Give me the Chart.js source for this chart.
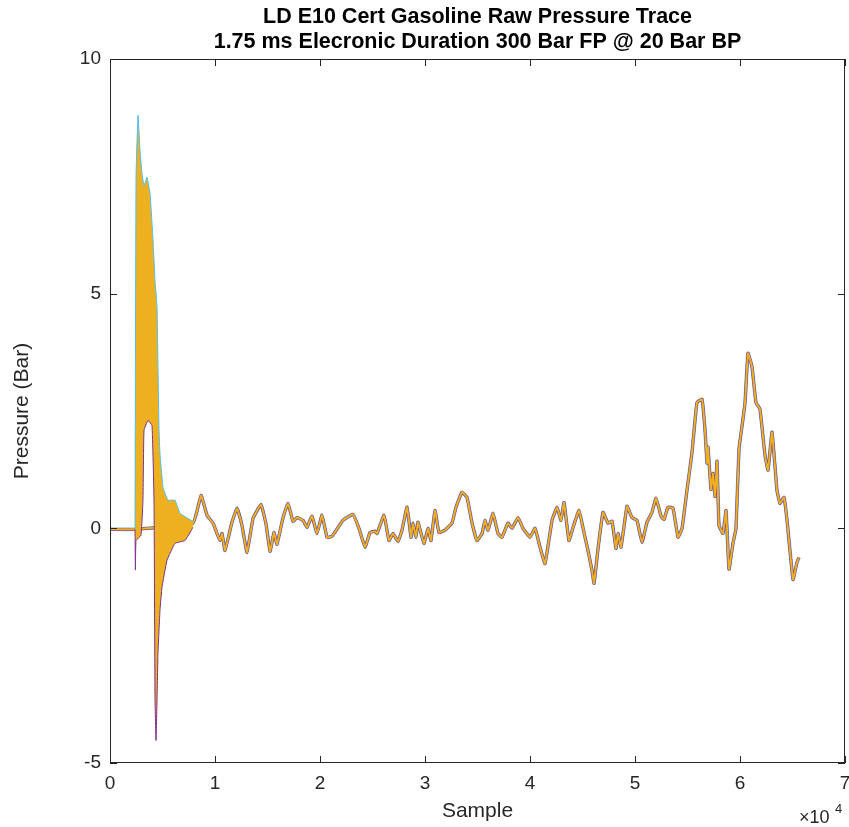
<!DOCTYPE html>
<html>
<head>
<meta charset="utf-8">
<script src="https://cdn.jsdelivr.net/npm/chart.js@4.4.1/dist/chart.umd.min.js"></script>
<style>
  html, body { margin: 0; padding: 0; background: #fff; }
  #wrap { width: 849px; height: 827px; }
</style>
</head>
<body>
<div id="wrap"><canvas id="traceChart"></canvas></div>
<script>
// Pressure trace (sample number, bar)
const traceSamples = [0, 2380, 7900, 8670, 9240, 9810, 10190, 10480, 10670, 10950,
  11620, 12100, 12570, 13050, 13620, 14380, 14860, 15240, 15620, 15900,
  16480, 16950, 17430, 17810, 18380, 18760, 19240, 19710, 20190, 20670,
  21140, 22190, 23140, 23710, 24290, 24760, 25240, 25430, 26100, 26570,
  26950, 27430, 27810, 28290, 28670, 28860, 29140, 29330, 29900, 30290,
  30570, 30950, 31330, 31900, 32570, 32950, 33520, 34000, 34480, 34950,
  35430, 35710, 36000, 36480, 36950, 37330, 37900, 38290, 38860, 39330,
  40000, 40480, 40950, 41430, 42100, 42570, 42950, 43240, 43710, 44100,
  44670, 45140, 45520, 45900, 46100, 46480, 46950, 47430, 47810, 48190,
  48380, 48670, 49240, 49710, 50190, 50670, 51140, 51620, 52000, 52480,
  52760, 53140, 53620, 54100, 54480, 54950, 55430, 55900, 56380, 56670,
  56860, 56950, 57240, 57430, 57620, 57810, 58000, 58380, 58670, 58950,
  59330, 59620, 59900, 60290, 60480, 60760, 61140, 61520, 61900, 62380,
  62670, 63050, 63520, 63810, 64190, 64480, 65050, 65430, 65620];
const tracePressure = [-0.02, -0.02, 0.11, 0.70, 0.28, 0.11, -0.11, -0.26, -0.11, -0.47,
  0.13, 0.43, 0.06, -0.51, 0.21, 0.51, 0.09, -0.49, -0.09, -0.34,
  0.23, 0.53, 0.15, 0.23, 0.17, 0.02, 0.26, -0.11, 0.28, -0.19,
  -0.17, 0.17, 0.30, 0.00, -0.40, -0.09, -0.06, -0.11, 0.28, -0.26,
  -0.11, -0.28, -0.04, 0.45, -0.19, 0.11, -0.19, 0.13, -0.32, 0.00,
  -0.26, 0.38, -0.09, -0.04, 0.11, 0.45, 0.77, 0.66, 0.11, -0.26,
  -0.11, 0.17, -0.04, 0.32, -0.11, -0.19, 0.11, 0.00, 0.23, 0.00,
  -0.19, 0.00, -0.40, -0.75, 0.17, 0.45, 0.17, 0.55, -0.26, 0.02,
  0.38, -0.09, -0.47, -0.89, -1.17, -0.43, 0.34, 0.11, 0.15, -0.43,
  -0.11, -0.40, 0.47, 0.23, 0.17, -0.30, 0.13, 0.34, 0.64, 0.26,
  0.19, 0.45, 0.43, -0.19, 0.00, 0.81, 1.62, 2.68, 2.75, 2.09,
  1.39, 1.73, 0.83, 1.17, 0.68, 1.43, 0.06, -0.11, 0.38, -0.87,
  -0.32, 0.00, 1.68, 2.34, 2.68, 3.73, 3.45, 2.68, 2.54, 1.56,
  1.24, 2.05, 0.81, 0.53, 0.66, 0.17, -1.09, -0.72, -0.62];

// Injection burst: top and bottom of the oscillation band
const burstTopSamples = [2380, 2480, 2670, 2860, 3050, 3240, 3520, 3810, 4100, 4290,
  4480, 4570, 4670, 4760, 5050, 5520, 6190, 6670, 7430, 7900];
const burstTopPressure = [-0.02, 7.52, 8.80, 8.05, 7.56, 7.30, 7.48, 7.14, 6.14, 5.28,
  4.71, 3.43, 2.09, 1.60, 0.87, 0.60, 0.60, 0.32, 0.21, 0.15];
const burstLowSamples = [2380, 2420, 2480, 2950, 3140, 3240, 3620, 4000, 4190, 4290,
  4380, 4480, 4570, 4760, 4950, 5430, 6190, 7140, 7900];
const burstLowPressure = [-0.02, -0.89, -0.26, -0.15, 0.60, 2.09, 2.30, 2.19, 0.60, -3.66,
  -4.52, -3.66, -2.66, -1.75, -1.26, -0.68, -0.32, -0.26, 0.02];

const xTickValues = [0, 10000, 20000, 30000, 40000, 50000, 60000, 70000];
const yTickValues = [-5, 0, 5, 10];
const titleLines = ['LD E10 Cert Gasoline Raw Pressure Trace',
  '1.75 ms Elecronic Duration 300 Bar FP @ 20 Bar BP'];

const axisColor = '#262626';
const fontFamily = 'Arial, "Liberation Sans", Helvetica, sans-serif';

function toPoints(xs, ys) {
  return xs.map((x, i) => ({ x: x, y: ys[i] }));
}
const tracePoints = toPoints(traceSamples, tracePressure);

// MATLAB style box, inward ticks, title and exponent label
const matlabAxes = {
  id: 'matlabAxes',
  afterDraw(chart) {
    const ctx = chart.ctx;
    const area = chart.chartArea;
    const xs = chart.scales.x;
    const ys = chart.scales.y;
    const tl = 7;
    ctx.save();
    ctx.strokeStyle = axisColor;
    ctx.lineWidth = 1;
    ctx.strokeRect(area.left + 0.5, area.top + 0.5, area.width - 1, area.height - 1);
    ctx.beginPath();
    xTickValues.forEach(v => {
      const px = Math.round(xs.getPixelForValue(v)) + 0.5;
      ctx.moveTo(px, area.bottom);
      ctx.lineTo(px, area.bottom - tl);
      ctx.moveTo(px, area.top);
      ctx.lineTo(px, area.top + tl);
    });
    yTickValues.forEach(v => {
      const py = Math.round(ys.getPixelForValue(v)) + 0.5;
      ctx.moveTo(area.left, py);
      ctx.lineTo(area.left + tl, py);
      ctx.moveTo(area.right, py);
      ctx.lineTo(area.right - tl, py);
    });
    ctx.stroke();

    // title
    ctx.fillStyle = '#000';
    ctx.textAlign = 'center';
    ctx.textBaseline = 'middle';
    ctx.font = 'bold 21.5px ' + fontFamily;
    const cx = (area.left + area.right) / 2;
    ctx.fillText(titleLines[0], cx, 17);
    ctx.fillText(titleLines[1], cx, 42);

    // x10^4 multiplier
    ctx.fillStyle = axisColor;
    ctx.textAlign = 'left';
    ctx.font = '18px ' + fontFamily;
    ctx.fillText('\u00d710', 799, 818);
    ctx.font = '13px ' + fontFamily;
    ctx.fillText('4', 835, 809);
    ctx.restore();
  }
};

const ctx = document.getElementById('traceChart').getContext('2d');
new Chart(ctx, {
  type: 'line',
  data: {
    datasets: [{
      label: 'burst top',
      data: toPoints(burstTopSamples, burstTopPressure),
      borderColor: '#4DBEEE',
      borderWidth: 1,
      pointRadius: 0,
      fill: false
    }, {
      label: 'burst bottom',
      data: toPoints(burstLowSamples, burstLowPressure),
      borderColor: '#7E2F8E',
      borderWidth: 1,
      pointRadius: 0,
      backgroundColor: '#EDB120',
      fill: '-1'
    }, {
      label: 'run 7',
      data: tracePoints,
      borderColor: '#EDB120',
      borderWidth: 2,
      pointRadius: 0,
      fill: false
    }, {
      label: 'run 4',
      data: tracePoints,
      borderColor: '#7E2F8E',
      borderWidth: 2.8,
      pointRadius: 0,
      fill: false
    }, {
      label: 'run 1',
      data: tracePoints,
      borderColor: 'rgba(0, 114, 189, 0.55)',
      borderWidth: 3.6,
      pointRadius: 0,
      fill: false
    }]
  },
  options: {
    responsive: true,
    maintainAspectRatio: false,
    animation: false,
    layout: {
      padding: { top: 59, right: 4, left: 0, bottom: 0 }
    },
    elements: { line: { tension: 0.1 } },
    plugins: {
      legend: { display: false },
      tooltip: { enabled: false },
      title: { display: false }
    },
    scales: {
      x: {
        type: 'linear',
        min: 0,
        max: 70000,
        grid: { display: false, drawTicks: false },
        border: { display: false },
        afterFit: function(scale) {
          scale.height = 64;
          scale.paddingLeft = 0;
          scale.paddingRight = 0;
        },
        afterBuildTicks: function(scale) {
          scale.ticks = xTickValues.map(v => ({ value: v }));
        },
        ticks: {
          color: axisColor,
          padding: 9,
          maxRotation: 0,
          font: { size: 19, family: fontFamily },
          callback: function(v) { return v / 10000; }
        },
        title: {
          display: true,
          text: 'Sample',
          color: axisColor,
          padding: { bottom: 3 },
          font: { size: 21, family: fontFamily }
        }
      },
      y: {
        min: -5,
        max: 10,
        grid: { display: false, drawTicks: false },
        border: { display: false },
        afterFit: function(scale) {
          scale.width = 110;
          scale.paddingTop = 0;
          scale.paddingBottom = 0;
        },
        afterBuildTicks: function(scale) {
          scale.ticks = yTickValues.map(v => ({ value: v }));
        },
        ticks: {
          color: axisColor,
          padding: 9,
          font: { size: 19, family: fontFamily }
        },
        title: {
          display: true,
          text: 'Pressure (Bar)',
          color: axisColor,
          padding: { top: 10 },
          font: { size: 21, family: fontFamily }
        }
      }
    }
  },
  plugins: [matlabAxes]
});
</script>
</body>
</html>
